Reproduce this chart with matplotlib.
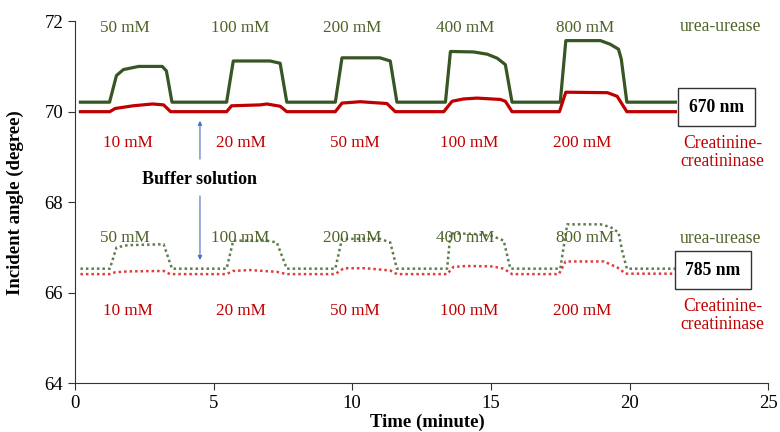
import matplotlib
matplotlib.use('Agg')
import matplotlib.pyplot as plt

plt.rcParams['font.family'] = ['Liberation Serif', 'DejaVu Serif']

# 670 nm, urea-urease (solid green)
t_u670 = [0.2, 1.25, 1.5, 1.75, 2.3, 3.15, 3.3, 3.5, 5.47, 5.71, 7.04, 7.4, 7.64,
          9.39, 9.63, 11.0, 11.37, 11.61, 13.36, 13.54, 14.37, 14.87, 15.23, 15.52, 15.76,
          17.5, 17.7, 18.95, 19.3, 19.6, 19.7, 19.9, 21.65]
y_u670 = [70.21, 70.21, 70.8, 70.93, 71.0, 71.0, 70.9, 70.21, 70.21, 71.12, 71.12, 71.07, 70.21,
          70.21, 71.19, 71.19, 71.12, 70.21, 70.21, 71.33, 71.32, 71.27, 71.18, 71.04, 70.21,
          70.21, 71.57, 71.57, 71.49, 71.38, 71.16, 70.21, 70.21]

# 670 nm, creatinine-creatininase (solid red)
t_c670 = [0.2, 1.26, 1.45, 2.1, 2.8, 3.2, 3.45, 5.47, 5.65, 6.68, 6.92, 7.4, 7.64,
          9.39, 9.63, 10.29, 11.25, 11.55, 13.3, 13.6, 14.0, 14.5, 15.34, 15.52, 15.76,
          17.47, 17.7, 19.2, 19.55, 19.9, 21.65]
y_c670 = [70.0, 70.0, 70.07, 70.13, 70.17, 70.15, 70.0, 70.0, 70.13, 70.15, 70.17, 70.12, 70.0,
          70.0, 70.19, 70.22, 70.18, 70.0, 70.0, 70.23, 70.28, 70.3, 70.27, 70.23, 70.0,
          70.0, 70.43, 70.42, 70.34, 70.0, 70.0]

# 785 nm, urea-urease (dotted green)
t_u785 = [0.2, 1.26, 1.5, 1.9, 3.2, 3.5, 5.47, 5.71, 6.92, 7.28, 7.64,
          9.39, 9.63, 11.0, 11.37, 11.61, 13.42, 13.54, 14.37, 15.06, 15.46, 15.7,
          17.5, 17.75, 18.95, 19.31, 19.6, 19.73, 19.9, 21.65]
y_u785 = [66.53, 66.53, 67.0, 67.05, 67.07, 66.53, 66.53, 67.15, 67.15, 67.11, 66.53,
          66.53, 67.19, 67.19, 67.11, 66.53, 66.53, 67.31, 67.3, 67.25, 67.15, 66.53,
          66.53, 67.51, 67.51, 67.45, 67.33, 66.93, 66.53, 66.53]

# 785 nm, creatinine-creatininase (dotted red)
t_c785 = [0.2, 1.26, 1.45, 1.9, 3.2, 3.43, 5.47, 5.7, 6.32, 7.28, 7.64,
          9.39, 9.69, 10.5, 11.37, 11.61, 13.42, 13.65, 14.14, 15.06, 15.46, 15.76,
          17.45, 17.69, 19.07, 19.55, 19.86, 21.65]
y_c785 = [66.41, 66.41, 66.45, 66.47, 66.48, 66.41, 66.41, 66.48, 66.5, 66.46, 66.41,
          66.41, 66.54, 66.54, 66.49, 66.41, 66.41, 66.57, 66.59, 66.58, 66.53, 66.41,
          66.41, 66.69, 66.69, 66.56, 66.42, 66.42]

urea_labels = ['50 mM', '100 mM', '200 mM', '400 mM', '800 mM']
urea_x = [1.8, 5.96, 10.0, 14.08, 18.4]
creat_labels = ['10 mM', '20 mM', '50 mM', '100 mM', '200 mM']
creat_x = [1.9, 6.0, 10.1, 14.2, 18.3]

green = '#375623'
green_txt = '#4f6228'
red = '#c00000'
fs = 12.3

fig = plt.figure(figsize=(7.8, 4.32), dpi=100)
ax = fig.add_axes([0.096, 0.113, 0.889, 0.838])

ax.plot(t_u670, y_u670, color=green, lw=2.3)
ax.plot(t_c670, y_c670, color=red, lw=2.3)
ax.plot(t_u785, y_u785, color='#5e7d4e', lw=1.8, linestyle=(0, (1, 1.2)))
ax.plot(t_c785, y_c785, color='#e03c3c', lw=1.8, linestyle=(0, (1, 1.2)))

for lab, x in zip(urea_labels, urea_x):
    ax.text(x, 71.84, lab, color=green_txt, fontsize=fs, ha='center', va='center')
    ax.text(x, 67.2, lab, color=green_txt, fontsize=fs, ha='center', va='center')
for lab, x in zip(creat_labels, creat_x):
    ax.text(x, 69.31, lab, color=red, fontsize=fs, ha='center', va='center')
    ax.text(x, 65.6, lab, color=red, fontsize=fs, ha='center', va='center')

for yy in [71.88, 67.2]:
    ax.text(23.27, yy, 'urea-urease', color=green_txt, fontsize=12.7, ha='center', va='center')
for yy in [69.1, 65.5]:
    ax.text(23.35, yy, 'Creatinine-\ncreatininase', color=red, fontsize=12.7,
            ha='center', va='center', linespacing=1.05)

box = dict(boxstyle='square,pad=0.6', fc='white', ec='#333333', lw=1)
ax.text(23.13, 70.1, '670 nm', fontsize=12.7, fontweight='bold', ha='center', va='center', bbox=box)
ax.text(23.0, 66.5, '785 nm', fontsize=12.7, fontweight='bold', ha='center', va='center', bbox=box)

ax.text(4.5, 68.5, 'Buffer solution', fontsize=13, fontweight='bold', ha='center', va='center')
arrow = dict(arrowstyle='-|>', color='#4472c4', lw=0.8, mutation_scale=6)
ax.annotate('', xy=(4.51, 69.86), xytext=(4.51, 68.89), arrowprops=arrow)
ax.annotate('', xy=(4.51, 66.66), xytext=(4.51, 68.2), arrowprops=arrow)

ax.set_xlim(0, 25)
ax.set_ylim(64, 72)
ax.set_xticks([0, 5, 10, 15, 20, 25])
ax.set_yticks([64, 66, 68, 70, 72])
ax.tick_params(labelsize=13.5, direction='out', length=5, color='#333333')
ax.spines['top'].set_visible(False)
ax.spines['right'].set_visible(False)
ax.spines['left'].set_color('#333333')
ax.spines['bottom'].set_color('#333333')
ax.set_xlabel('Time (minute)', fontsize=13.5, fontweight='bold', labelpad=0)
ax.set_ylabel('Incident angle (degree)', fontsize=13.5, fontweight='bold')
ax.xaxis.set_label_coords(0.509, -0.085)
ax.yaxis.set_label_coords(-0.073, 0.5)

fig.savefig('out.png', dpi=100)
